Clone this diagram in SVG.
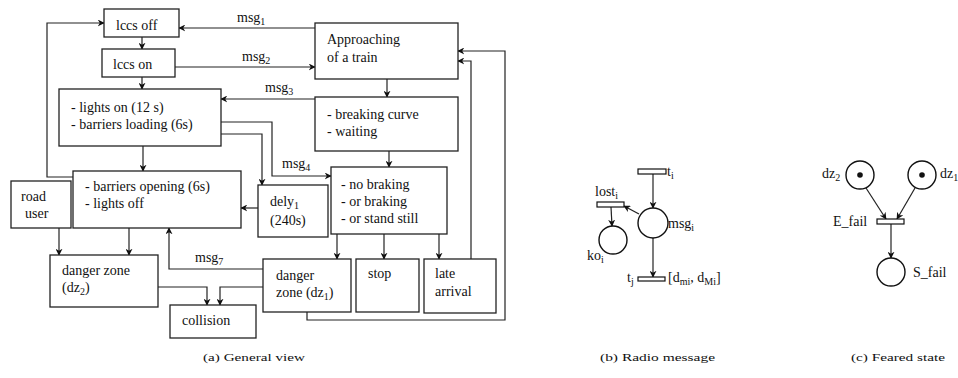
<svg xmlns="http://www.w3.org/2000/svg" width="958" height="378" viewBox="0 0 958 378" font-family="'Liberation Serif', 'DejaVu Serif', serif">
<style>
rect.b{fill:#fff;stroke:#222;stroke-width:1.3}
.c path,.c line,.c polyline{fill:none;stroke:#222;stroke-width:1.2}
text{font-family:'Liberation Serif','DejaVu Serif',serif;font-size:14px;fill:#111}
.s{font-size:10px}
.cap{font-size:11px}
circle.p{fill:#fff;stroke:#111;stroke-width:1.4}
rect.t{fill:#fff;stroke:#111;stroke-width:1.2}
</style>
<defs>
<marker id="a" viewBox="0 0 10 10" refX="9" refY="5" markerWidth="7" markerHeight="7" markerUnits="userSpaceOnUse" orient="auto">
<path d="M0,0 L10,5 L0,10 L3,5 Z" fill="#111"/>
</marker>
</defs>

<g class="c" id="connectors">
<line x1="142" y1="37" x2="142" y2="49" marker-end="url(#a)"/>
<line x1="142" y1="77" x2="142" y2="89" marker-end="url(#a)"/>
<line x1="143" y1="146" x2="143" y2="171" marker-end="url(#a)"/>
<polyline points="73,177 47,177 47,23 104,23" marker-end="url(#a)"/>
<line x1="315" y1="28" x2="179" y2="28" marker-end="url(#a)"/>
<line x1="175" y1="67" x2="315" y2="67" marker-end="url(#a)"/>
<line x1="387" y1="79" x2="387" y2="97" marker-end="url(#a)"/>
<line x1="315" y1="99" x2="221" y2="99" marker-end="url(#a)"/>
<line x1="389" y1="151" x2="389" y2="167" marker-end="url(#a)"/>
<polyline points="221,122 272,122 272,176 331,176" marker-end="url(#a)"/>
<polyline points="221,134 262,134 262,185" marker-end="url(#a)"/>
<line x1="258" y1="208" x2="241" y2="208" marker-end="url(#a)"/>
<line x1="337" y1="234" x2="337" y2="259" marker-end="url(#a)"/>
<line x1="384" y1="234" x2="384" y2="259" marker-end="url(#a)"/>
<line x1="439" y1="234" x2="439" y2="259" marker-end="url(#a)"/>
<polyline points="471,259 471,61 458,61" marker-end="url(#a)"/>
<polyline points="307,312 307,320 505,320 505,51 458,51" marker-end="url(#a)"/>
<polyline points="263,269 169,269 169,228" marker-end="url(#a)"/>
<polyline points="263,287 220,287 220,305" marker-end="url(#a)"/>
<polyline points="158,287 207,287 207,305" marker-end="url(#a)"/>
<line x1="59" y1="228" x2="59" y2="255" marker-end="url(#a)"/>
<line x1="129" y1="228" x2="129" y2="255" marker-end="url(#a)"/>
<line x1="653" y1="174" x2="653" y2="208" marker-end="url(#a)"/>
<line x1="639" y1="214" x2="624" y2="206" marker-end="url(#a)"/>
<line x1="611" y1="207" x2="612" y2="226" marker-end="url(#a)"/>
<line x1="653" y1="237" x2="653" y2="277" marker-end="url(#a)"/>
<line x1="866" y1="188" x2="886" y2="219" marker-end="url(#a)"/>
<line x1="915" y1="188" x2="897" y2="219" marker-end="url(#a)"/>
<line x1="891" y1="224" x2="891" y2="258" marker-end="url(#a)"/>
<text x="237" y="22">msg<tspan class="s" dy="3">1</tspan></text>
<text x="242" y="61">msg<tspan class="s" dy="3">2</tspan></text>
<text x="265" y="92">msg<tspan class="s" dy="3">3</tspan></text>
<text x="282" y="168">msg<tspan class="s" dy="3">4</tspan></text>
<text x="195" y="262">msg<tspan class="s" dy="3">7</tspan></text>
</g>

<g id="lccs-off"><rect class="b" x="104" y="9" width="75" height="28"/><text x="116" y="30">lccs off</text></g>
<g id="lccs-on"><rect class="b" x="102" y="49" width="73" height="28"/><text x="113" y="69">lccs on</text></g>
<g id="lights-on"><rect class="b" x="59" y="89" width="162" height="57"/><text x="71" y="112">- lights on (12 s)</text><text x="71" y="129">- barriers loading (6s)</text></g>
<g id="approaching"><rect class="b" x="315" y="23" width="143" height="56"/><text x="327" y="44">Approaching</text><text x="327" y="62">of a train</text></g>
<g id="breaking"><rect class="b" x="315" y="97" width="143" height="54"/><text x="327" y="119">- breaking curve</text><text x="327" y="136">- waiting</text></g>
<g id="no-braking"><rect class="b" x="331" y="167" width="116" height="67"/><text x="341" y="189">- no braking</text><text x="341" y="206">- or braking</text><text x="341" y="223">- or stand still</text></g>
<g id="dely"><rect class="b" x="258" y="185" width="70" height="52"/><text x="270" y="206">dely<tspan class="s" dy="3">1</tspan></text><text x="270" y="225">(240s)</text></g>
<g id="barriers-opening"><rect class="b" x="73" y="171" width="168" height="57"/><text x="85" y="191">- barriers opening (6s)</text><text x="85" y="208">- lights off</text></g>
<g id="road-user"><rect class="b" x="11" y="181" width="60" height="47"/><text x="21" y="201">road</text><text x="25" y="218">user</text></g>
<g id="dz2"><rect class="b" x="50" y="255" width="108" height="52"/><text x="62" y="275">danger zone</text><text x="62" y="292">(dz<tspan class="s" dy="3">2</tspan><tspan dy="-3">)</tspan></text></g>
<g id="dz1"><rect class="b" x="263" y="259" width="88" height="53"/><text x="276" y="280">danger</text><text x="276" y="297">zone (dz<tspan class="s" dy="3">1</tspan><tspan dy="-3">)</tspan></text></g>
<g id="stop"><rect class="b" x="356" y="259" width="63" height="53"/><text x="368" y="278">stop</text></g>
<g id="late-arrival"><rect class="b" x="424" y="259" width="72" height="54"/><text x="435" y="278">late</text><text x="435" y="296">arrival</text></g>
<g id="collision"><rect class="b" x="170" y="305" width="86" height="33"/><text x="182" y="325">collision</text></g>

<g id="ti"><rect class="t" x="638" y="169" width="28" height="5"/><text x="667" y="176">t<tspan class="s" dy="3">i</tspan></text></g>
<g id="msgi"><circle class="p" cx="653" cy="223" r="15"/><text x="668" y="228">msg<tspan class="s" dy="3">i</tspan></text></g>
<g id="losti"><rect class="t" x="597" y="202" width="27" height="5"/><text x="595" y="196">lost<tspan class="s" dy="3">i</tspan></text></g>
<g id="koi"><circle class="p" cx="613" cy="240" r="14"/><text x="587" y="260">ko<tspan class="s" dy="3">i</tspan></text></g>
<g id="tj"><rect class="t" x="638" y="277" width="27" height="4"/><text x="627" y="282">t<tspan class="s" dy="3">j</tspan></text><text x="668" y="282">[d<tspan class="s" dy="3">mi</tspan><tspan dy="-3">, d</tspan><tspan class="s" dy="3">Mi</tspan><tspan dy="-3">]</tspan></text></g>

<g id="dz2-place"><circle class="p" cx="860" cy="175" r="14"/><circle cx="860" cy="175" r="2.8" fill="#111"/><text x="822" y="178">dz<tspan class="s" dy="3">2</tspan></text></g>
<g id="dz1-place"><circle class="p" cx="922" cy="175" r="14"/><circle cx="922" cy="175" r="2.8" fill="#111"/><text x="940" y="178">dz<tspan class="s" dy="3">1</tspan></text></g>
<g id="e-fail"><rect class="t" x="877" y="219" width="27" height="5"/><text x="833" y="226">E_fail</text></g>
<g id="s-fail"><circle class="p" cx="891" cy="272" r="14"/><text x="913" y="277">S_fail</text></g>

<g id="captions">
<text class="cap" x="203" y="361" textLength="102" lengthAdjust="spacingAndGlyphs">(a) General view</text>
<text class="cap" x="600" y="361" textLength="115" lengthAdjust="spacingAndGlyphs">(b) Radio message</text>
<text class="cap" x="851" y="361" textLength="94" lengthAdjust="spacingAndGlyphs">(c) Feared state</text>
</g>
</svg>
